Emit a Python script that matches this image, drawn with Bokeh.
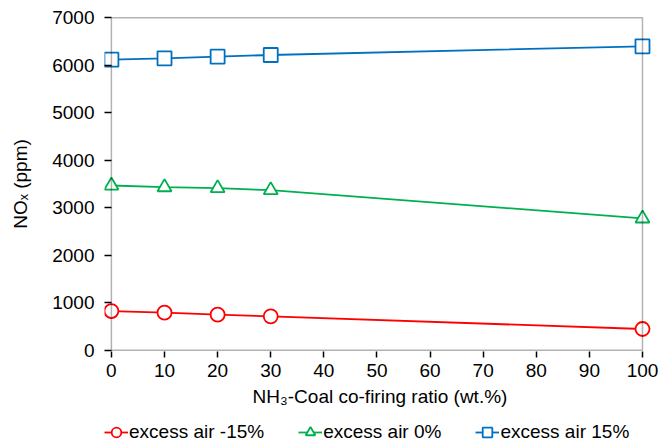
from bokeh.plotting import figure
from bokeh.models import Range1d, FixedTicker, Legend, LegendItem, BoxAnnotation
from bokeh.layouts import column
from bokeh.embed import file_html
from bokeh.resources import INLINE

ratio = [0, 10, 20, 30, 100]
nox_m15 = [826, 792, 750, 715, 448]
nox_0 = [3468, 3433, 3412, 3370, 2775]
nox_p15 = [6117, 6145, 6180, 6215, 6397]
labels = ["excess air -15%", "excess air 0%", "excess air 15%"]
colors = ["#FF0000", "#00B050", "#0070C0"]
markers = ["circle", "triangle", "square"]

X0, X1, Y0, Y1 = 0, 100, 0, 7000
PAD_L, PAD_R, PAD_Y = 1.3, 2.45, 25

FONT = "Liberation Sans"
FS = "19px"
ML, MR = 104, 4

p = figure(width=659, height=414, output_backend="svg", toolbar_location=None,
           x_range=Range1d(X0 - PAD_L, X1 + PAD_R), y_range=Range1d(Y0 - PAD_Y, Y1 + PAD_Y),
           min_border_left=ML, min_border_right=MR, min_border_top=16, min_border_bottom=63)
p.xgrid.visible = False
p.ygrid.visible = False
p.outline_line_color = None

for ax in (p.xaxis[0], p.yaxis[0]):
    ax.axis_line_color = None
    ax.major_tick_line_color = "black"
    ax.major_tick_line_width = 1.5
    ax.minor_tick_line_color = None
    ax.major_label_text_font = FONT
    ax.major_label_text_font_size = FS
    ax.major_label_text_color = "black"
    ax.axis_label_text_font = FONT
    ax.axis_label_text_font_size = FS
    ax.axis_label_text_font_style = "normal"
    ax.axis_label_text_color = "black"

p.xaxis.major_tick_out = 6
p.xaxis.major_tick_in = 0
p.yaxis.major_tick_out = 0
p.yaxis.major_tick_in = 7
p.xaxis.ticker = FixedTicker(ticks=list(range(0, 101, 10)))
p.yaxis.ticker = FixedTicker(ticks=list(range(0, 7001, 1000)))
p.xaxis.axis_label = "NH\u2083-Coal co-firing ratio (wt.%)"
p.yaxis.axis_label = "NO\u2093 (ppm)"
p.xaxis.major_label_standoff = 6
p.yaxis.major_label_standoff = 10
p.xaxis.axis_label_standoff = 6
p.yaxis.axis_label_standoff = 18

p.add_layout(BoxAnnotation(left=X0, right=X1, bottom=Y0, top=Y1, fill_alpha=0,
                           line_color="black", line_width=1.5))

for ys, col, mk in zip([nox_m15, nox_0, nox_p15], colors, markers):
    p.line(ratio, ys, line_color=col, line_width=1.8)
    p.scatter(ratio, ys, marker=mk, size=14, line_color=col, line_width=1.8,
              fill_color="white")

# legend strip: renderers reuse the data but lie outside its visible ranges
leg = figure(width=659, height=30, output_backend="svg", toolbar_location=None,
             x_axis_location=None, y_axis_location=None,
             x_range=Range1d(-2, -1), y_range=Range1d(-2, -1),
             min_border_left=ML, min_border_right=MR, min_border_top=0, min_border_bottom=0,
             outline_line_color=None)
leg.xgrid.visible = False
leg.ygrid.visible = False
items = []
for ys, lab, col, mk in zip([nox_m15, nox_0, nox_p15], labels, colors, markers):
    l = leg.line(ratio, ys, line_color=col, line_width=1.8)
    s = leg.scatter(ratio, ys, marker=mk, size=13, line_color=col, line_width=1.8,
                    fill_color="white")
    items.append(LegendItem(label=lab, renderers=[l, s]))
legend = Legend(items=items, orientation="horizontal", location=(0, 0),
                label_text_font=FONT, label_text_font_size=FS, label_text_color="black",
                border_line_color=None, background_fill_alpha=0,
                glyph_width=24, glyph_height=24, spacing=34, label_standoff=1,
                margin=0, padding=2)
leg.add_layout(legend, "center")

open("out.html", "w").write(file_html(column(p, leg, spacing=0), INLINE))
